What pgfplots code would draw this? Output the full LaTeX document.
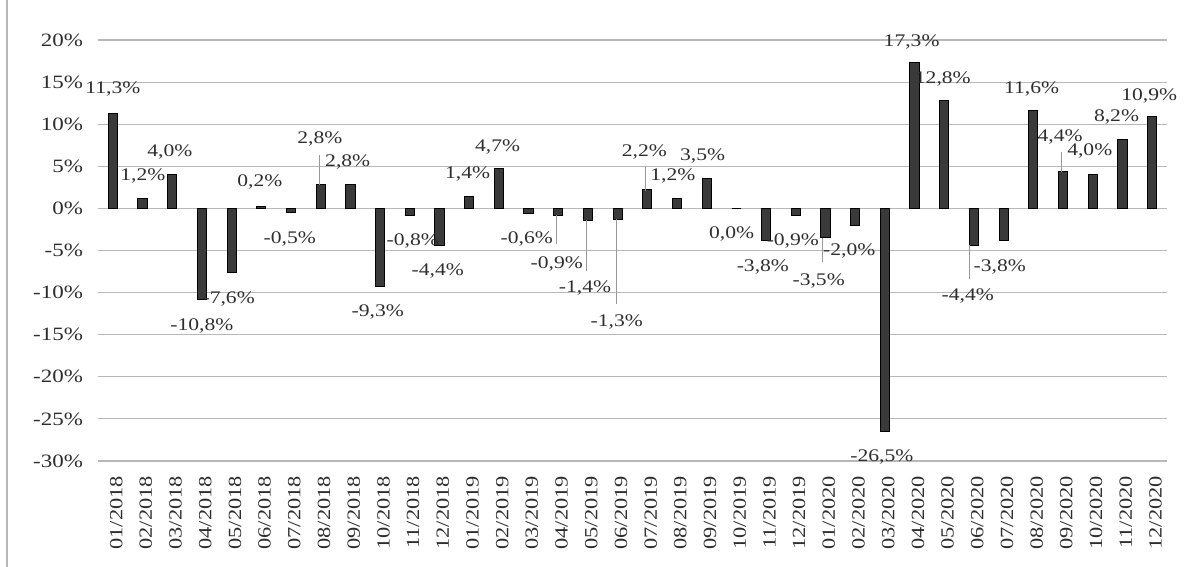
\documentclass[border=0pt]{standalone}
\usepackage{fontspec}
\setmainfont{Liberation Serif}
\usepackage{pgfplots}
\pgfplotsset{compat=1.18}
\definecolor{barfill}{HTML}{3A3A3A}
\definecolor{gridc}{HTML}{B8B8B8}
\definecolor{txt}{HTML}{2E2E2E}

\begin{document}
\begin{tikzpicture}[lbl/.style={font=\fontsize{10.8}{12}\selectfont, yscale=0.82, text=txt, inner sep=0pt},
  lead/.style={draw=gray!80, line width=0.5pt}]
\useasboundingbox (-49pt,-53pt) rectangle (546pt,230.5pt);
\draw[gridc, line width=0.7pt] (-45.5pt,-53pt) -- (-45.5pt,230.5pt);
\begin{axis}[
  scale only axis, width=534.5pt, height=210.5pt,
  xmin=-0.5, xmax=35.5, ymin=-30, ymax=20,
  axis line style={draw=none},
  major tick length=0pt,
  ytick={-30,-25,...,20},
  yticklabels={-30\%,-25\%,-20\%,-15\%,-10\%,-5\%,0\%,5\%,10\%,15\%,20\%},
  ymajorgrids, grid style={gridc, line width=0.6pt},
  xtick={0,...,35},
  xticklabels={01/2018,02/2018,03/2018,04/2018,05/2018,06/2018,07/2018,08/2018,09/2018,10/2018,11/2018,12/2018,
    01/2019,02/2019,03/2019,04/2019,05/2019,06/2019,07/2019,08/2019,09/2019,10/2019,11/2019,12/2019,
    01/2020,02/2020,03/2020,04/2020,05/2020,06/2020,07/2020,08/2020,09/2020,10/2020,11/2020,12/2020},
  x tick label style={rotate=90, anchor=east, yscale=0.83, text=txt, font=\fontsize{11.2}{12}\selectfont, xshift=-4pt, yshift=-2pt},
  y tick label style={yscale=0.82, text=txt, font=\fontsize{11.5}{12}\selectfont, xshift=-4pt},
  ybar, bar width=4.6pt,
  clip=false,
]
\addplot[fill=barfill, draw=black, line width=0.5pt] table {
x y
0 11.3
1 1.2
2 4.0
3 -10.8
4 -7.6
5 0.2
6 -0.5
7 2.8
8 2.8
9 -9.3
10 -0.8
11 -4.4
12 1.4
13 4.7
14 -0.6
15 -0.9
16 -1.4
17 -1.3
18 2.2
19 1.2
20 3.5
21 0.0
22 -3.8
23 -0.9
24 -3.5
25 -2.0
26 -26.5
27 17.3
28 12.8
29 -4.4
30 -3.8
31 11.6
32 4.4
33 4.0
34 8.2
35 10.9
};
% leader lines
\draw[lead] (axis cs:6.95,2.8) -- (axis cs:6.95,6.4);
\draw[lead] (axis cs:14.95,-0.8) -- (axis cs:14.95,-4.2);
\draw[lead] (axis cs:15.96,-1.4) -- (axis cs:15.96,-7.4);
\draw[lead] (axis cs:16.97,-1.3) -- (axis cs:16.97,-11.3);
\draw[lead] (axis cs:17.95,2.1) -- (axis cs:17.95,4.9);
\draw[lead] (axis cs:23.9,-3.5) -- (axis cs:23.9,-6.35);
\draw[lead] (axis cs:28.86,-4.4) -- (axis cs:28.86,-8.4);
\draw[lead] (axis cs:31.95,4.3) -- (axis cs:31.95,6.7);
% data labels
\node[lbl] at (axis cs:0,14.2) {11,3\%};
\node[lbl] at (axis cs:1.01,3.86) {1,2\%};
\node[lbl] at (axis cs:1.92,6.7) {4,0\%};
\node[lbl] at (axis cs:3.0,-13.95) {-10,8\%};
\node[lbl] at (axis cs:3.9,-10.75) {-7,6\%};
\node[lbl] at (axis cs:4.95,3.15) {0,2\%};
\node[lbl] at (axis cs:5.96,-3.6) {-0,5\%};
\node[lbl] at (axis cs:6.97,8.25) {2,8\%};
\node[lbl] at (axis cs:7.91,5.5) {2,8\%};
\node[lbl] at (axis cs:8.92,-12.3) {-9,3\%};
\node[lbl] at (axis cs:10.1,-3.9) {-0,8\%};
\node[lbl] at (axis cs:10.94,-7.4) {-4,4\%};
\node[lbl] at (axis cs:11.95,4.1) {1,4\%};
\node[lbl] at (axis cs:12.96,7.3) {4,7\%};
\node[lbl] at (axis cs:13.94,-3.6) {-0,6\%};
\node[lbl] at (axis cs:14.95,-6.6) {-0,9\%};
\node[lbl] at (axis cs:15.9,-9.4) {-1,4\%};
\node[lbl] at (axis cs:16.97,-13.5) {-1,3\%};
\node[lbl] at (axis cs:17.9,6.7) {2,2\%};
\node[lbl] at (axis cs:18.86,3.86) {1,2\%};
\node[lbl] at (axis cs:19.86,6.2) {3,5\%};
\node[lbl] at (axis cs:20.84,-3.0) {0,0\%};
\node[lbl] at (axis cs:21.89,-6.95) {-3,8\%};
\node[lbl] at (axis cs:22.9,-3.86) {-0,9\%};
\node[lbl] at (axis cs:23.77,-8.6) {-3,5\%};
\node[lbl] at (axis cs:24.8,-5.05) {-2,0\%};
\node[lbl] at (axis cs:25.9,-29.5) {-26,5\%};
\node[lbl] at (axis cs:26.9,19.8) {17,3\%};
\node[lbl] at (axis cs:27.95,15.4) {12,8\%};
\node[lbl] at (axis cs:28.79,-10.4) {-4,4\%};
\node[lbl] at (axis cs:29.87,-6.95) {-3,8\%};
\node[lbl] at (axis cs:30.94,14.2) {11,6\%};
\node[lbl] at (axis cs:31.9,8.5) {4,4\%};
\node[lbl] at (axis cs:32.9,6.8) {4,0\%};
\node[lbl] at (axis cs:33.8,10.9) {8,2\%};
\node[lbl] at (axis cs:34.9,13.4) {10,9\%};
\end{axis}
\end{tikzpicture}
\end{document}
